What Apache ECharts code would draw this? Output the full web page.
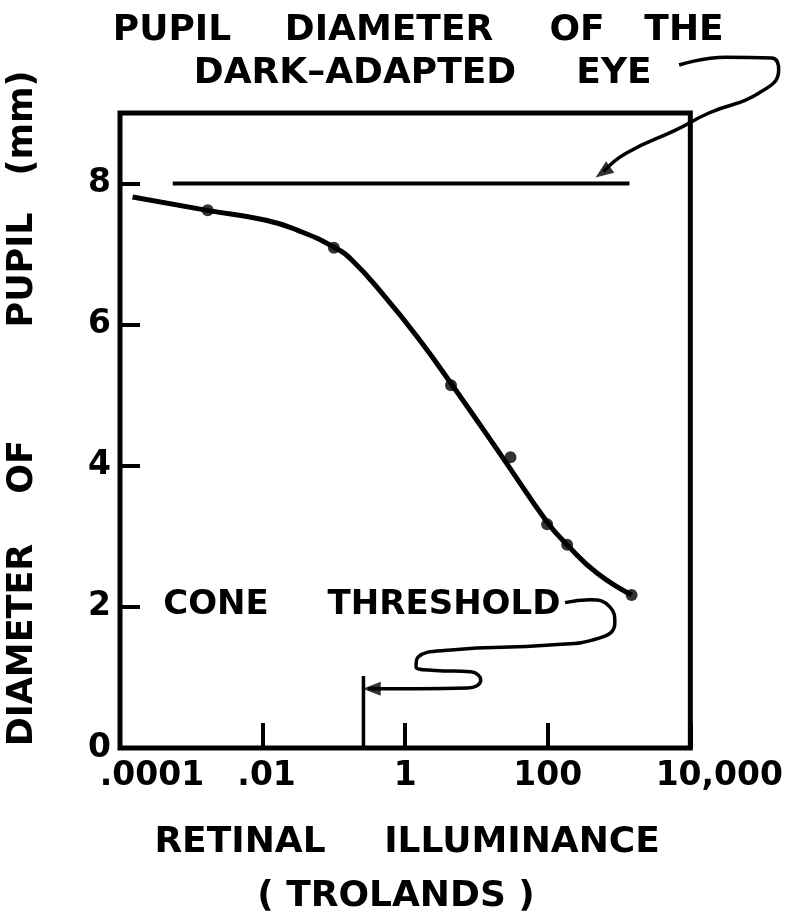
<!DOCTYPE html>
<html>
<head>
<meta charset="utf-8">
<script src="https://cdn.jsdelivr.net/npm/echarts@6/dist/echarts.min.js"></script>
<style>
html, body { margin: 0; padding: 0; background: #fff; }
#main { width: 786px; height: 920px; }
</style>
</head>
<body>
<div id="main"></div>
<script>
// smooth pupil curve, retinal illuminance (trolands) vs pupil diameter (mm)
var curveX = [1.5e-4, 1.68e-3, 0.0112, 0.0323, 0.099, 0.177, 0.526, 1.52, 4.38, 23.2, 98.4, 187, 490, 1507];
var curveY = [7.81, 7.62, 7.48, 7.33, 7.10, 6.92, 6.39, 5.81, 5.17, 4.12, 3.20, 2.88, 2.48, 2.17];
// measured points
var pointX = [1.7e-3, 0.1, 4.4, 30, 98, 187, 1500];
var pointY = [7.62, 7.09, 5.14, 4.12, 3.17, 2.88, 2.17];
// dark-adapted pupil line
var darkX = [5.5e-4, 1400];
var darkY = [8, 8];
// cone threshold marker
var coneX = [0.26, 0.26];
var coneY = [0, 1.02];
// annotation arrows
var eyeArrowX = [6400, 28800, 126000, 158000, 83000, 16700, 5800, 1160, 560];
var eyeArrowY = [9.68, 9.79, 9.78, 9.61, 9.28, 9.0, 8.76, 8.43, 8.17];
var coneArrowX = [175, 391, 743, 873, 540, 108, 4.4, 1.52, 1.42, 2.62, 8.3, 11.5, 7.55, 1.52, 0.42, 0.3];
var coneArrowY = [2.06, 2.10, 2.00, 1.77, 1.56, 1.46, 1.39, 1.29, 1.15, 1.1, 1.08, 0.96, 0.85, 0.84, 0.84, 0.84];
var headX = [594, 0.34];
var headY = [8.16, 0.84];
var headRotate = [126, 90];
// tick labels
var xTickExp = [-4, -2, 0, 2, 4];
var xTickLabels = ['.0001', '.01', '1', '100', '10,000'];
var xTickStyle = ['l', 'a', 'n', 'n', 'r'];

var FONT = '"DejaVu Sans", sans-serif';
var DECADE = 574 / 8;

function pairs(xs, ys) {
    return xs.map(function (x, i) { return [x, ys[i]]; });
}
function rs(pad) {
    return { padding: [0, 0, 0, pad], fontSize: 33, fontWeight: 'bold', fontFamily: FONT, color: '#000' };
}
function word(text, x, y, size, rot) {
    return {
        type: 'text', x: x, y: y, rotation: rot || 0,
        style: { text: text, font: 'bold ' + size + 'px ' + FONT, fill: '#000', align: 'center', verticalAlign: 'middle' }
    };
}

var chart = echarts.init(document.getElementById('main'));
var option = {
    backgroundColor: '#fff',
    animation: false,
    grid: [
        { left: 120, top: 113, width: 574, height: 635, show: true, borderColor: '#000', borderWidth: 5 },
        // same scale from 1 to 2e5: lets the arrow run past the frame
        { left: 120 + 4 * DECADE, top: 113, width: Math.log10(2e5) * DECADE, height: 635, show: false }
    ],
    xAxis: [{
        type: 'log', logBase: 10, min: 1e-4, max: 1e4, interval: 2, splitNumber: 4,
        axisLine: { show: false },
        axisTick: { show: true, inside: true, length: 25, lineStyle: { color: '#000', width: 4 } },
        splitLine: { show: false },
        axisLabel: {
            margin: 12, showMinLabel: true, showMaxLabel: true,
            fontSize: 33, fontWeight: 'bold', fontFamily: FONT, color: '#000',
            formatter: function (v) {
                var i = xTickExp.indexOf(Math.round(Math.log10(v)));
                if (i < 0) return '';
                return '{' + xTickStyle[i] + '|' + xTickLabels[i] + '}';
            },
            rich: { l: rs(64), a: rs(8), n: rs(0), r: rs(58) }
        }
    }, {
        type: 'log', logBase: 10, min: 1, max: 2e5, gridIndex: 1, show: false
    }],
    yAxis: [{
        type: 'value', min: 0, max: 9, interval: 2,
        axisLine: { show: false },
        axisTick: { show: true, inside: true, length: 20, lineStyle: { color: '#000', width: 4 } },
        splitLine: { show: false },
        axisLabel: {
            margin: 9, fontSize: 33, fontWeight: 'bold', fontFamily: FONT, color: '#000',
            formatter: function (v) { return v > 8 ? '' : String(v); }
        }
    }, {
        type: 'value', min: 0, max: 9, gridIndex: 1, show: false
    }],
    graphic: [
        word('PUPIL', 172, 31, 36),
        word('DIAMETER', 389, 31, 36),
        word('OF', 577, 31, 36),
        word('THE', 684, 31, 36),
        word('DARK–ADAPTED', 355, 74, 36),
        word('EYE', 614, 74, 36),
        word('DIAMETER', 23, 645, 35, Math.PI / 2),
        word('OF', 23, 467, 35, Math.PI / 2),
        word('PUPIL', 23, 270, 35, Math.PI / 2),
        word('(mm)', 23, 123, 35, Math.PI / 2),
        word('RETINAL', 240, 843, 36),
        word('ILLUMINANCE', 522, 843, 36),
        word('( TROLANDS )', 396, 897, 36),
        word('CONE', 216, 605, 34),
        word('THRESHOLD', 444, 605, 34)
    ],
    series: [
        {
            type: 'line', data: pairs(curveX, curveY), smooth: 0.5, showSymbol: false,
            lineStyle: { color: '#000', width: 5 }
        },
        {
            type: 'scatter', data: pairs(pointX, pointY), symbol: 'circle', symbolSize: 12,
            itemStyle: { color: '#000' }, z: 5
        },
        {
            type: 'line', data: pairs(darkX, darkY), showSymbol: false,
            lineStyle: { color: '#000', width: 4 }
        },
        {
            type: 'line', data: pairs(coneX, coneY), showSymbol: false,
            lineStyle: { color: '#000', width: 3.5 }
        },
        {
            type: 'line', xAxisIndex: 1, yAxisIndex: 1, data: pairs(eyeArrowX, eyeArrowY),
            smooth: 0.5, showSymbol: false, clip: false,
            lineStyle: { color: '#000', width: 3.5 }
        },
        {
            type: 'line', data: pairs(coneArrowX, coneArrowY), smooth: 0.5, showSymbol: false, clip: false,
            lineStyle: { color: '#000', width: 3.5 }
        },
        {
            type: 'scatter', clip: false, symbol: 'triangle', symbolSize: [14, 18],
            data: headX.map(function (x, i) {
                return { value: [x, headY[i]], symbolRotate: headRotate[i] };
            }),
            itemStyle: { color: '#000' }, z: 6
        }
    ]
};
chart.setOption(option);
</script>
</body>
</html>
